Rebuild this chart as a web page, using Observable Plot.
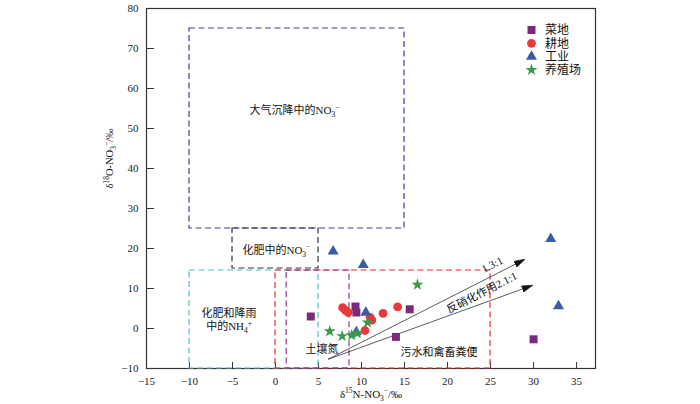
<!DOCTYPE html>
<html><head><meta charset="utf-8">
<script src="https://cdn.jsdelivr.net/npm/d3@7"></script>
<script src="https://cdn.jsdelivr.net/npm/@observablehq/plot@0.6"></script>
<style>
body{margin:0;background:#fff;}
#chart{width:700px;height:404px;}
</style></head><body><div id="chart"></div>
<script>
// ---- data ----
const seriesNames = ["菜地", "耕地", "工业", "养殖场"];
const seriesColors = ["#7a2a7c", "#e8393b", "#3b5ba5", "#3a9a4c"];
const seriesSymbols = ["square", "circle", "triangle", "star"];

const vegX = [4.1, 9.3, 9.4, 15.6, 14.0, 30.0];
const vegY = [3.0, 5.5, 4.0, 4.8, -2.1, -2.7];
const cropX = [7.8, 8.1, 8.45, 11.0, 11.2, 12.5, 14.2, 10.4];
const cropY = [5.2, 4.6, 4.0, 2.8, 2.1, 3.8, 5.4, -0.5];
const indX = [6.7, 10.2, 10.5, 9.4, 32.0, 32.9];
const indY = [19.3, 15.9, 4.0, -0.9, 22.4, 5.6];
const farmX = [6.3, 7.75, 8.85, 9.5, 10.7, 16.5];
const farmY = [-0.7, -1.9, -1.7, -1.2, 1.5, 10.95];

const boxX1 = [-10, -5, -10, 0, 1.3];
const boxX2 = [15, 5, 5, 25, 8.6];
const boxY1 = [25, 15, -10, -10, -10];
const boxY2 = [75, 25, 14.5, 14.5, 14.5];
const boxColors = ["#3f3e9e", "#333333", "#4cc2c9", "#e2302e", "#94369a"];

const arrowX1 = [6.1, 6.1];
const arrowY1 = [-7.7, -7.7];
const arrowX2 = [29.0, 29.9];
const arrowY2 = [17.3, 10.8];

const labelText = ["大气沉降中的NO_{3}^{−}", "化肥中的NO_{3}^{−}", "化肥和降雨", "中的NH_{4}^{+}", "土壤氮", "污水和禽畜粪便"];
const labelX = [2.2, 0.1, -5.4, -5.4, 5.4, 19.0];
const labelY = [54.5, 19.6, 3.7, 0.5, -5.2, -6.05];
const arrowLabelText = ["1.3:1", "反硝化作用2.1:1"];
const arrowLabelX = [25.2, 24.0];
const arrowLabelY = [15.9, 8.95];

const xTicks = [-15, -10, -5, 0, 5, 10, 15, 20, 25, 30, 35];
const yTicks = [-10, 0, 10, 20, 30, 40, 50, 60, 70, 80];
const xLabel = "δ^{15}N-NO_{3}^{−}/‰";
const yLabel = "δ^{18}O-NO_{3}^{−}/‰";

// ---- build ----
const series = [
  {x: vegX, y: vegY, r: 4.5},
  {x: cropX, y: cropY, r: 4.4},
  {x: indX, y: indY, r: 4.1},
  {x: farmX, y: farmY, r: 3.8}
];
const boxes = boxX1.map((v, i) => ({x1: v, x2: boxX2[i], y1: boxY1[i], y2: boxY2[i]}));
const arrows = arrowX1.map((v, i) => ({x1: v, y1: arrowY1[i], x2: arrowX2[i], y2: arrowY2[i]}));
const labels = labelText.map((t, i) => ({t, x: labelX[i], y: labelY[i]}));
const aLabels = arrowLabelText.map((t, i) => ({t, x: arrowLabelX[i], y: arrowLabelY[i]}));

const head = (color) => d3.create("svg:marker")
  .attr("viewBox", "-11 -3.5 11 7")
  .attr("markerWidth", 11).attr("markerHeight", 7)
  .attr("markerUnits", "userSpaceOnUse")
  .attr("refX", 0).attr("refY", 0)
  .attr("orient", "auto")
  .call(m => m.append("path").attr("d", "M-11,-3.3L0,0L-11,3.3Z").attr("fill", "#111"))
  .node();

const font = "'Liberation Serif', 'Noto Sans CJK SC', serif";

const marks = [
  Plot.frame({stroke: "#333", strokeWidth: 1.2}),
  Plot.axisX({ticks: xTicks, tickSize: 6, dy: -6, text: null, stroke: "#333"}),
  Plot.axisX({ticks: xTicks, tickSize: 0, tickPadding: 9, fontSize: 11, label: null, fill: "#222"}),
  Plot.axisY({ticks: yTicks, tickSize: 8, dx: 8, text: null, stroke: "#333"}),
  Plot.axisY({ticks: yTicks, tickSize: 0, tickPadding: 8, fontSize: 11, label: null, fill: "#222"}),
  ...boxes.map((b, i) => Plot.rect([b], {x1: "x1", x2: "x2", y1: "y1", y2: "y2", fill: "none", stroke: boxColors[i], strokeWidth: 1.2, strokeDasharray: "6,3.5"})),
  Plot.link(arrows, {x1: "x1", y1: "y1", x2: "x2", y2: "y2", stroke: "#333", strokeWidth: 0.8, markerEnd: head}),
  ...series.map((s, i) => Plot.dot(s.x.map((x, j) => ({x, y: s.y[j]})), {x: "x", y: "y", symbol: seriesSymbols[i], r: s.r, fill: seriesColors[i], stroke: "none"})),
  Plot.text(labels, {x: "x", y: "y", text: "t", fontSize: 11, fill: "#111"}),
  Plot.text(aLabels, {x: "x", y: "y", text: "t", fontSize: 11, fill: "#111", rotate: -27}),
  Plot.text([xLabel], {text: d => d, frameAnchor: "bottom", dy: 29, fontSize: 11, fill: "#111"}),
  Plot.text([yLabel], {text: d => d, frameAnchor: "left", dx: -37, rotate: -90, fontSize: 10.5, fill: "#111"})
];

const chart = Plot.plot({
  width: 700, height: 404,
  marginLeft: 146, marginRight: 105, marginTop: 8, marginBottom: 36,
  x: {domain: [-15, 37.2]},
  y: {domain: [-10, 80]},
  style: {fontFamily: font, background: "#fff", color: "#222"},
  marks
});

// rich text: _{sub} ^{sup}
function rich(node) {
  const s = node.textContent;
  if (!/[_^]\{/.test(s)) return;
  const fs = parseFloat(node.getAttribute("font-size")) || 11;
  node.textContent = "";
  const re = /([_^])\{([^}]*)\}/g;
  let last = 0, m, shift = 0;
  const add = (txt, target, small) => {
    const t = document.createElementNS("http://www.w3.org/2000/svg", "tspan");
    const d = target - shift;
    if (d !== 0) t.setAttribute("dy", d.toFixed(2));
    shift = target;
    if (small) t.setAttribute("font-size", (fs * 0.68).toFixed(2));
    t.textContent = txt;
    node.appendChild(t);
  };
  while ((m = re.exec(s))) {
    if (m.index > last) add(s.slice(last, m.index), 0, false);
    add(m[2], m[1] === "_" ? fs * 0.28 : -fs * 0.38, true);
    last = re.lastIndex;
  }
  if (last < s.length) add(s.slice(last), 0, false);
}
d3.select(chart).selectAll("text").each(function () { rich(this); });

// legend
const svg = d3.select(chart);
const lg = svg.append("g").attr("font-family", font).attr("font-size", 12).attr("text-anchor", "start");
seriesNames.forEach((name, i) => {
  const y = 30 + i * 13.3;
  const size = Math.PI * series[i].r * series[i].r;
  const sym = [d3.symbolSquare, d3.symbolCircle, d3.symbolTriangle, d3.symbolStar][i];
  lg.append("path").attr("d", d3.symbol(sym, size)()).attr("transform", `translate(531.5,${y})`).attr("fill", seriesColors[i]);
  lg.append("text").attr("x", 545).attr("y", y).attr("dy", "0.36em").attr("text-anchor", "start").attr("fill", "#111").text(name);
});

document.getElementById("chart").appendChild(chart);
</script></body></html>
